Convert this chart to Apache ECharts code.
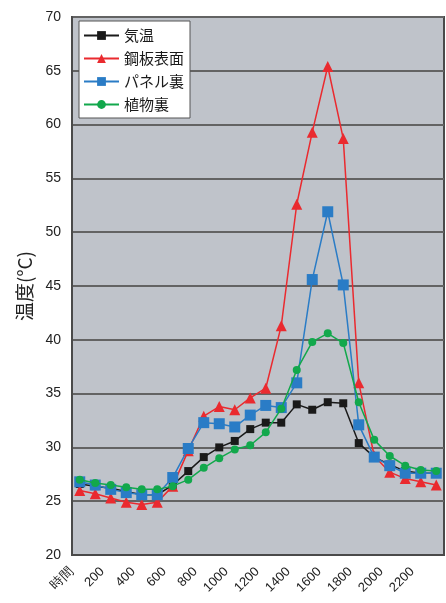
<!DOCTYPE html>
<html><head><meta charset="utf-8">
<script src="https://cdn.jsdelivr.net/npm/echarts@6/dist/echarts.min.js"></script>
<style>html,body{margin:0;padding:0;background:#fff}#c{width:446px;height:603px}</style>
</head><body><div id="c"></div>
<script>
var categories = ['時間','100','200','300','400','500','600','700','800','900','1000','1100','1200','1300','1400','1500','1600','1700','1800','1900','2000','2100','2200','2300'];
var yTicks = [20,25,30,35,40,45,50,55,60,65,70];
var kion   = [26.6,26.4,26.2,25.9,25.6,25.6,26.5,27.8,29.1,30.0,30.6,31.7,32.3,32.3,34.0,33.5,34.2,34.1,30.4,29.1,28.4,27.8,27.6,27.6];
var kohan  = [26.0,25.7,25.3,24.9,24.7,24.9,26.4,29.7,32.9,33.8,33.5,34.6,35.5,41.3,52.6,59.3,65.4,58.7,36.0,29.2,27.7,27.1,26.8,26.5];
var panel  = [26.8,26.5,26.1,25.8,25.6,25.6,27.2,29.9,32.3,32.2,31.9,33.0,33.9,33.7,36.0,45.6,51.9,45.1,32.1,29.1,28.3,27.6,27.6,27.6];
var plant  = [27.0,26.7,26.5,26.3,26.1,26.1,26.4,27.0,28.1,29.0,29.8,30.2,31.4,33.6,37.2,39.8,40.6,39.7,34.2,30.7,29.2,28.3,27.9,27.8];
var names = ['気温','鋼板表面','パネル裏','植物裏'];

var jp = '"Noto Sans CJK JP", sans-serif';
var num = '"Liberation Sans", Arial, sans-serif';
function mk(name, data, color, symbol, size, z){
  return {name:name, type:'line', data:data, symbol:symbol, symbolSize:size, z:z,
    lineStyle:{color:color, width:1.5}, itemStyle:{color:color}, showAllSymbol:true, animation:false};
}
var chart = echarts.init(document.getElementById('c'), null, {renderer:'canvas'});
chart.setOption({
  animation:false,
  grid:{left:72, right:2, top:17, bottom:48, show:true, backgroundColor:'#bfc3ca', borderColor:'#4a4a4a', borderWidth:2},
  legend:{orient:'vertical', left:79, top:21, backgroundColor:'#fff', borderColor:'#555', borderWidth:1,
    padding:[6,6,5,4], itemWidth:35, itemHeight:11, itemGap:6, data:names,
    textStyle:{fontFamily:jp, fontSize:15, color:'#1a1a1a', lineHeight:17}},
  xAxis:{type:'category', data:categories, boundaryGap:true,
    axisLine:{lineStyle:{color:'#4a4a4a', width:2}},
    axisTick:{inside:true, length:5, interval:0, lineStyle:{color:'#4a4a4a', width:1}},
    axisLabel:{interval:1, rotate:45, margin:6, padding:[0,12,0,0], fontFamily:num, fontSize:13, color:'#222'}},
  yAxis:{type:'value', min:20, max:70, interval:5,
    name:'温度(°C)', nameLocation:'middle', nameGap:36, nameRotate:90,
    nameTextStyle:{fontFamily:jp, fontSize:19, color:'#222'},
    axisLine:{show:true, lineStyle:{color:'#4a4a4a', width:2}},
    axisTick:{show:false},
    axisLabel:{fontFamily:num, fontSize:14, color:'#222', margin:11,
      formatter:function(v){return yTicks.indexOf(v)>=0 ? String(v) : '';}},
    splitLine:{lineStyle:{color:'#636363', width:2}}},
  series:[
    mk(names[0], kion, '#1a1a1a', 'rect', 8, 2),
    mk(names[1], kohan, '#ea2a2f', 'triangle', 11, 3),
    mk(names[2], panel, '#2a7cc6', 'rect', 11, 4),
    mk(names[3], plant, '#12a84c', 'circle', 8, 5)
  ]
});
</script></body></html>
